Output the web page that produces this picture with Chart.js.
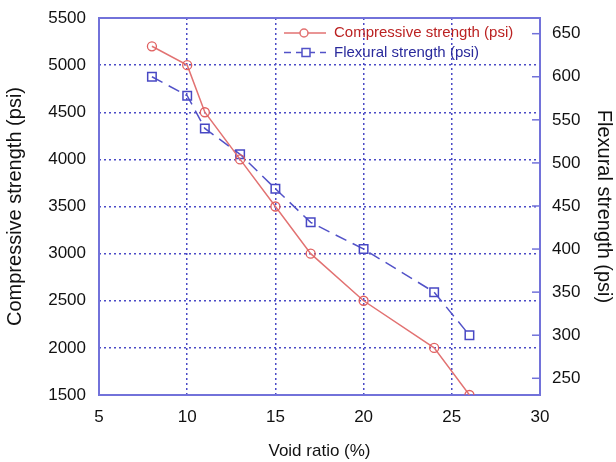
<!DOCTYPE html>
<html>
<head>
<meta charset="utf-8">
<script src="https://cdn.jsdelivr.net/npm/chart.js@4.4.1/dist/chart.umd.min.js"></script>
<style>
body { margin: 0; background: #fff; }
#wrap { width: 616px; height: 462px; position: relative; }
</style>
</head>
<body>
<div id="wrap"><canvas id="chart"></canvas></div>
<script>
// values
const voidRatio = [8, 10, 11, 13, 15, 17, 20, 24, 26];
const compressive = [5200, 5000, 4500, 4000, 3500, 3000, 2500, 2000, 1500];
const flexural = [600, 578, 540, 510, 470, 431, 400, 350, 300];
const xTicks = [5, 10, 15, 20, 25, 30];
const yTicks = [1500, 2000, 2500, 3000, 3500, 4000, 4500, 5000, 5500];
const y2Ticks = [250, 300, 350, 400, 450, 500, 550, 600, 650];

const frameColor = '#7272da';
const gridColor = '#4a4ac6';
const redLine = '#e27272';
const blueLine = '#5252c8';

const toPoints = function(ys) {
	return voidRatio.map((x, i) => ({ x: x, y: ys[i] }));
}
const setTicks = function(list) {
	return function(scale) { scale.ticks = list.map(v => ({ value: v })); };
}
const plain = function(v) { return String(v); }

// box round the plot, inward ticks on the right axis, legend inside the plot
const extras = {
	id: 'extras',
	beforeDatasetsDraw(chart) {
		const ctx = chart.ctx;
		const a = chart.chartArea;
		const y2 = chart.scales.y2;
		ctx.save();
		ctx.strokeStyle = frameColor;
		ctx.lineWidth = 2;
		ctx.strokeRect(a.left, a.top, a.right - a.left, a.bottom - a.top);
		ctx.lineWidth = 1.5;
		for (let v of y2Ticks) {
			const y = y2.getPixelForValue(v);
			ctx.beginPath();
			ctx.moveTo(a.right - 8, y);
			ctx.lineTo(a.right, y);
			ctx.stroke();
		}
		ctx.restore();
	},
	afterDatasetsDraw(chart) {
		const ctx = chart.ctx;
		const a = chart.chartArea;
		const items = [
			{ text: 'Compressive strength (psi)', line: redLine, textColor: '#bb2222', dash: [], shape: 'circle' },
			{ text: 'Flexural strength (psi)', line: blueLine, textColor: '#2a2a9c', dash: [7, 5], shape: 'square' }
		];
		ctx.save();
		ctx.font = '15px "Liberation Sans", Arial, sans-serif';
		ctx.textBaseline = 'middle';
		items.forEach((it, i) => {
			const y = a.top + 15 + i * 19.5;
			const x0 = a.left + 185;
			ctx.strokeStyle = it.line;
			ctx.lineWidth = 1.5;
			ctx.setLineDash(it.dash);
			ctx.beginPath();
			ctx.moveTo(x0, y);
			ctx.lineTo(x0 + 42, y);
			ctx.stroke();
			ctx.setLineDash([]);
			ctx.fillStyle = '#fff';
			ctx.beginPath();
			if (it.shape == 'circle') {
				ctx.arc(x0 + 20, y, 4, 0, Math.PI * 2);
			} else {
				ctx.rect(x0 + 18, y - 4, 8, 8);
			}
			ctx.fill();
			ctx.stroke();
			ctx.fillStyle = it.textColor;
			ctx.fillText(it.text, x0 + 50, y);
		});
		ctx.restore();
	}
};

const fontTick = { family: '"Liberation Sans", Arial, sans-serif', size: 17 };
const fontSide = { family: '"Liberation Sans", Arial, sans-serif', size: 20 };

// fixed box sizes so the plot lands where it is in the picture
const fitSide = function(w) {
	return function(s) { s.width = w; s.paddingTop = 0; s.paddingBottom = 0; };
}

const ctx = document.getElementById('chart').getContext('2d');
const myChart = new Chart(ctx, {
	type: 'line',
	data: {
		datasets: [{
			label: 'Compressive strength (psi)',
			data: toPoints(compressive),
			yAxisID: 'y',
			borderColor: redLine,
			borderWidth: 1.5,
			pointStyle: 'circle',
			pointRadius: 4.5,
			pointBorderWidth: 1.3,
			pointBorderColor: '#e06060',
			pointBackgroundColor: 'rgba(255,255,255,0)',
			tension: 0
		}, {
			label: 'Flexural strength (psi)',
			data: toPoints(flexural),
			yAxisID: 'y2',
			borderColor: blueLine,
			borderWidth: 1.5,
			borderDash: [12, 7],
			pointStyle: 'rect',
			pointRadius: 6,
			pointBorderWidth: 1.5,
			pointBorderColor: '#4848c4',
			pointBackgroundColor: 'rgba(255,255,255,0)',
			tension: 0
		}]
	},
	options: {
		responsive: true,
		maintainAspectRatio: false,
		animation: false,
		layout: { padding: { left: 3, right: 0, top: 18, bottom: 0 } },
		plugins: {
			legend: { display: false },
			tooltip: { enabled: false }
		},
		scales: {
			x: {
				type: 'linear',
				min: 5, max: 30,
				afterBuildTicks: setTicks(xTicks),
				afterFit: function(s) { s.height = 67; s.paddingLeft = 0; s.paddingRight = 0; },
				grid: { color: gridColor, lineWidth: 1.5, drawTicks: false },
				border: { display: false, dash: [2, 3] },
				ticks: { color: '#111', font: fontTick, padding: 12, callback: plain },
				title: { display: true, text: 'Void ratio (%)', color: '#111', font: fontTick, padding: 0 }
			},
			y: {
				position: 'left',
				min: 1500, max: 5500,
				afterBuildTicks: setTicks(yTicks),
				afterFit: fitSide(96),
				grid: { color: gridColor, lineWidth: 1.5, drawTicks: false },
				border: { display: false, dash: [2, 3] },
				ticks: { color: '#111', font: fontTick, padding: 13, callback: plain },
				title: { display: true, text: 'Compressive strength (psi)', color: '#111', font: fontSide, padding: 0 }
			},
			y2: {
				position: 'right',
				min: 230.6, max: 668.2,
				afterBuildTicks: setTicks(y2Ticks),
				afterFit: fitSide(76),
				grid: { drawOnChartArea: false, drawTicks: false },
				border: { display: false },
				ticks: { color: '#111', font: fontTick, padding: 12, callback: plain },
				title: { display: true, text: 'Flexural strength (psi)', color: '#111', font: fontSide, padding: 0 }
			}
		}
	},
	plugins: [extras]
});
</script>
</body>
</html>
